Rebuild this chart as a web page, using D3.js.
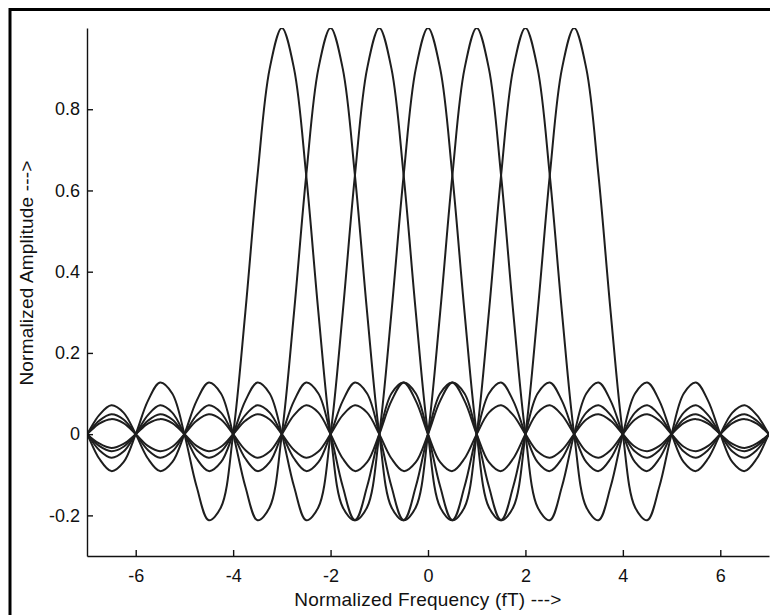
<!DOCTYPE html>
<html>
<head>
<meta charset="utf-8">
<script src="https://cdn.jsdelivr.net/npm/d3@7"></script>
<style>
  html, body { margin: 0; padding: 0; background: #fff; }
  .chart__text { font-family: "Liberation Sans", Arial, sans-serif; font-size: 18px; fill: #111; }
  .chart__title { font-family: "Liberation Sans", Arial, sans-serif; font-size: 19px; fill: #111; letter-spacing: 0.2px; }
  .chart__line { fill: none; stroke: #1e1e1e; stroke-width: 2; stroke-linejoin: round; }
  .chart__axis path, .chart__axis line { stroke: #111; stroke-width: 1.4; }
</style>
</head>
<body>
<div id="chart"></div>
<script>
// Subcarrier centres (normalized frequency)
const centers = [-3, -2, -1, 0, 1, 2, 3];

// One side of the pulse shape: offset from centre -> amplitude
const lobeOffsets = [0, 0.25, 0.5, 0.75, 1, 1.25, 1.5, 1.75, 2, 2.25, 2.5, 2.75, 3, 3.25, 3.5, 3.75,
  4, 4.25, 4.5, 4.75, 5, 5.25, 5.5, 5.75, 6, 6.25, 6.5, 6.75, 7, 7.25, 7.5, 7.75,
  8, 8.25, 8.5, 8.75, 9, 9.25, 9.5, 9.75, 10];
const lobeValues = [1.000, 0.900, 0.637, 0.300, 0, -0.180, -0.212, -0.129, 0, 0.100, 0.127, 0.082,
  0, -0.069, -0.091, -0.060, 0, 0.053, 0.071, 0.047, 0, -0.043, -0.058, -0.039,
  0, 0.036, 0.049, 0.033, 0, -0.031, -0.042, -0.029, 0, 0.027, 0.037, 0.026,
  0, -0.024, -0.034, -0.023, 0];

// Tick labels
const xTicks = [-6, -4, -2, 0, 2, 4, 6];
const yTicks = [-0.2, 0, 0.2, 0.4, 0.6, 0.8];

/**
 * Overlapping pulse spectra
 */
class PulseChart
{
  constructor()
  {
    // Total size
    this._w = 770;
    this._h = 615;

    // Plot area
    this._margin = { top: 28, right: 1, bottom: 59, left: 87 };
    this._width = this._w - this._margin.left - this._margin.right;
    this._height = this._h - this._margin.top - this._margin.bottom;

    this._svg = null;
    this._g = null;
    this._x = null;
    this._y = null;
  }

  init()
  {
    this._svg = d3.select("#chart")
      .append("svg")
      .attr("width", this._w)
      .attr("height", this._h);

    // Frame around the figure (cut off on the right and bottom)
    this._svg.append("rect")
      .attr("x", 10)
      .attr("y", 9.5)
      .attr("width", 800)
      .attr("height", 650)
      .attr("fill", "none")
      .attr("stroke", "#000")
      .attr("stroke-width", 3);

    this._svg.append("clipPath")
      .attr("id", "plot-clip")
      .append("rect")
      .attr("width", this._width)
      .attr("height", this._height);

    this._g = this._svg.append("g")
      .attr("transform", "translate(" + this._margin.left + "," + this._margin.top + ")");

    this._x = d3.scaleLinear().domain([-7, 7]).range([0, this._width]);
    this._y = d3.scaleLinear().domain([-0.3, 1]).range([this._height, 0]);

    return this;
  }

  render()
  {
    // Symmetric pulse built from the one-sided table
    const pulse = [];
    for (let i = lobeOffsets.length - 1; i > 0; i--)
      pulse.push({ o: -lobeOffsets[i], v: lobeValues[i] });
    lobeOffsets.forEach((o, i) => pulse.push({ o: o, v: lobeValues[i] }));

    const line = d3.line()
      .x(d => this._x(d.x))
      .y(d => this._y(d.y))
      .curve(d3.curveCatmullRom.alpha(0.5));

    // Curves
    this._g.append("g")
      .attr("clip-path", "url(#plot-clip)")
      .selectAll("path")
      .data(centers)
      .enter()
      .append("path")
      .attr("class", "chart__line")
      .attr("d", c => line(pulse.map(p => ({ x: c + p.o, y: p.v }))));

    // X axis
    const gX = this._g.append("g")
      .attr("class", "chart__axis")
      .attr("transform", "translate(0," + this._height + ")")
      .call(d3.axisBottom(this._x).tickValues(xTicks).tickSizeInner(-6).tickSizeOuter(0).tickPadding(13)
        .tickFormat(d => String(d)));
    gX.selectAll("text").attr("class", "chart__text").attr("fill", null);

    // Y axis
    const gY = this._g.append("g")
      .attr("class", "chart__axis")
      .call(d3.axisLeft(this._y).tickValues(yTicks).tickSizeInner(-6).tickSizeOuter(0).tickPadding(7)
        .tickFormat(d => String(d)));
    gY.selectAll("text").attr("class", "chart__text").attr("fill", null);

    // Axis titles
    this._svg.append("text")
      .attr("class", "chart__title")
      .attr("x", this._margin.left + this._x(0))
      .attr("y", 606)
      .attr("text-anchor", "middle")
      .text("Normalized Frequency (fT) --->");

    this._svg.append("text")
      .attr("class", "chart__title")
      .attr("transform", "translate(33,273) rotate(-90)")
      .attr("text-anchor", "middle")
      .text("Normalized Amplitude --->");

    return this;
  }
}

new PulseChart().init().render();
</script>
</body>
</html>
